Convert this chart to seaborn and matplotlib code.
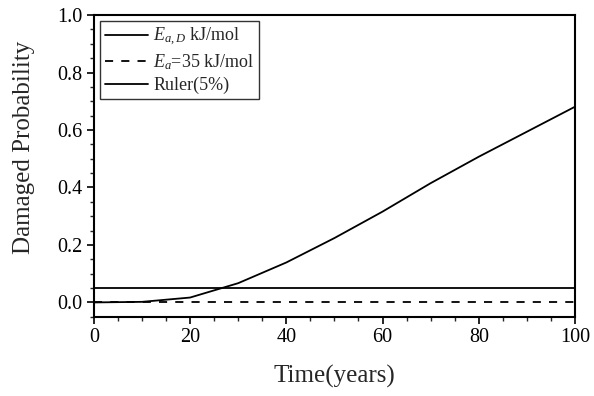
import matplotlib
matplotlib.use("Agg")
import matplotlib.pyplot as plt
import seaborn as sns
import pandas as pd
from matplotlib.ticker import MultipleLocator, FormatStrFormatter

# Damage probability over service life
years = [0, 10, 20, 30, 40, 50, 60, 70, 80, 90, 100]
prob_ead = [0.0, 0.002, 0.017, 0.067, 0.139, 0.224, 0.316, 0.415, 0.507, 0.594, 0.681]
prob_ea35 = [0.0, 0.0, 0.0, 0.0, 0.0, 0.0, 0.0, 0.0, 0.0, 0.0, 0.0]
ruler = [0.05] * len(years)

labels = [r"$E_{a,D}$ kJ/mol", r"$E_{a}$=35 kJ/mol", "Ruler(5%)"]

sns.set_style("ticks")
plt.rcParams["font.family"] = ["Liberation Serif", "DejaVu Serif"]
plt.rcParams["mathtext.fontset"] = "custom"
plt.rcParams["mathtext.rm"] = "Liberation Serif"
plt.rcParams["mathtext.it"] = "Liberation Serif:italic"

fig = plt.figure(figsize=(5.94, 3.96), dpi=100)
ax = fig.add_axes([0.158, 0.200, 0.810, 0.762])

df = pd.DataFrame({"t": years, "ead": prob_ead, "ea35": prob_ea35, "ruler": ruler})
sns.lineplot(data=df, x="t", y="ead", ax=ax, color="black", lw=1.3, label=labels[0])
sns.lineplot(data=df, x="t", y="ea35", ax=ax, color="black", lw=1.3,
             linestyle=(0, (4.5, 4.5)), label=labels[1])
sns.lineplot(data=df, x="t", y="ruler", ax=ax, color="black", lw=1.3, label=labels[2])

ax.set_xlim(0, 100)
ax.set_ylim(-0.05, 1.0)
ax.xaxis.set_major_locator(MultipleLocator(20))
ax.xaxis.set_minor_locator(MultipleLocator(5))
ax.yaxis.set_major_locator(MultipleLocator(0.2))
ax.yaxis.set_minor_locator(MultipleLocator(0.05))
ax.yaxis.set_major_formatter(FormatStrFormatter("%.1f"))

ax.tick_params(which="major", direction="out", length=5, width=1.2, labelsize=14.5,
               colors="black", pad=3)
ax.tick_params(which="minor", direction="out", length=3, width=1.0)
for s in ax.spines.values():
    s.set_linewidth(1.5)
    s.set_color("black")
    s.set_visible(True)

ax.set_xlabel("Time(years)", fontsize=18, labelpad=13)
ax.set_ylabel("Damaged Probability", fontsize=18, labelpad=16)
ax.yaxis.label.set_y(0.563)

leg = ax.legend(loc="upper left", fontsize=13, frameon=True, fancybox=False,
                edgecolor="black", handlelength=2.4, handletextpad=0.3,
                borderpad=0.25, labelspacing=0.25, borderaxespad=0.35)
leg.get_frame().set_linewidth(1.0)

fig.savefig("out.png", dpi=100)
